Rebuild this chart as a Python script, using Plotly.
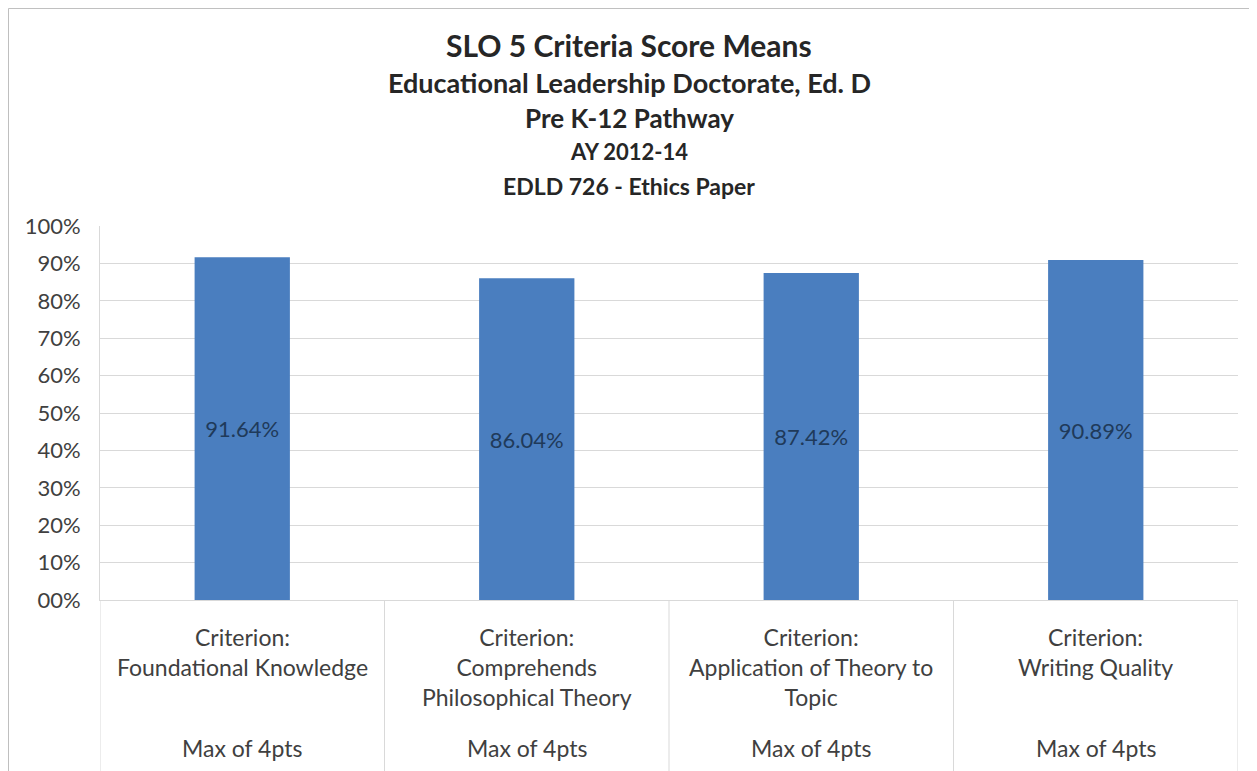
import plotly.graph_objects as go

# data
criteria = ["Foundational Knowledge", "Comprehends Philosophical Theory",
            "Application of Theory to Topic", "Writing Quality"]
criteria_labels = ["Criterion:<br>Foundational Knowledge",
                   "Criterion:<br>Comprehends<br>Philosophical Theory",
                   "Criterion:<br>Application of Theory to<br>Topic",
                   "Criterion:<br>Writing Quality"]
max_points = ["Max of 4pts", "Max of 4pts", "Max of 4pts", "Max of 4pts"]
score_means = [0.9164, 0.8604, 0.8742, 0.9089]
y_ticks = [0, 0.1, 0.2, 0.3, 0.4, 0.5, 0.6, 0.7, 0.8, 0.9, 1.0]
y_tick_labels = ["00%", "10%", "20%", "30%", "40%", "50%", "60%", "70%", "80%", "90%", "100%"]
title_lines = ["SLO 5 Criteria Score Means",
               "Educational Leadership Doctorate, Ed. D",
               "Pre K-12 Pathway",
               "AY 2012-14",
               "EDLD 726 - Ethics Paper"]

FONT = "Lato"
TEXT = "#404040"
GRID = "#d9d9d9"

fig = go.Figure(go.Bar(
    x=criteria,
    y=score_means,
    marker=dict(color="#4a7ebf", line=dict(width=0)),
    text=["{:.2%}".format(v) for v in score_means],
    textposition="inside",
    insidetextanchor="middle",
    textfont=dict(family=FONT, size=22, color="#1f3a5a"),
    hoverinfo="skip",
))

# page body has an 8px margin, so the figure is a bit smaller than the window
fig.update_layout(
    width=1249, height=763,
    margin=dict(l=92, r=19, t=218, b=171),
    paper_bgcolor="white", plot_bgcolor="white",
    bargap=0.665,
    showlegend=False,
    font=dict(family=FONT, color=TEXT),
)
fig.update_yaxes(range=[0, 1], tickvals=y_ticks, ticktext=y_tick_labels,
                 tickfont=dict(family=FONT, size=22, color=TEXT),
                 ticklabelstandoff=14,
                 showgrid=True, gridcolor=GRID, gridwidth=1,
                 showline=True, linecolor=GRID, linewidth=1,
                 zeroline=False, ticks="", ticklen=0)
fig.update_xaxes(showticklabels=False, showgrid=False, showline=True,
                 linecolor=GRID, linewidth=1, range=[-0.5, len(criteria) - 0.5])

# titles
title_y = [1.484, 1.385, 1.289, 1.198, 1.107]
title_size = [30, 27, 26, 22, 23]
for line, yy, sz in zip(title_lines, title_y, title_size):
    fig.add_annotation(text="<b>" + line + "</b>", x=0.465, y=yy, xref="paper", yref="paper",
                       showarrow=False, yanchor="middle",
                       font=dict(family=FONT, size=sz, color="#262626"))

# category table below the axis
for c, lab, mp in zip(criteria, criteria_labels, max_points):
    fig.add_annotation(text=lab, x=c, y=-0.057, xref="x", yref="paper",
                       showarrow=False, yanchor="top",
                       font=dict(family=FONT, size=23, color=TEXT))
    fig.add_annotation(text=mp, x=c, y=-0.396, xref="x", yref="paper",
                       showarrow=False, yanchor="middle",
                       font=dict(family=FONT, size=23, color=TEXT))
for i in range(len(criteria) + 1):
    fig.add_shape(type="line", xref="x", yref="paper", x0=i - 0.5, x1=i - 0.5,
                  y0=0, y1=-0.46, line=dict(color=GRID, width=1))

# outer chart border
fig.add_shape(type="rect", xref="paper", yref="paper", x0=-0.0804, x1=1.0123,
              y0=-0.47, y1=1.5816, line=dict(color="#bfbfbf", width=1))

fig.write_html("out.html")
